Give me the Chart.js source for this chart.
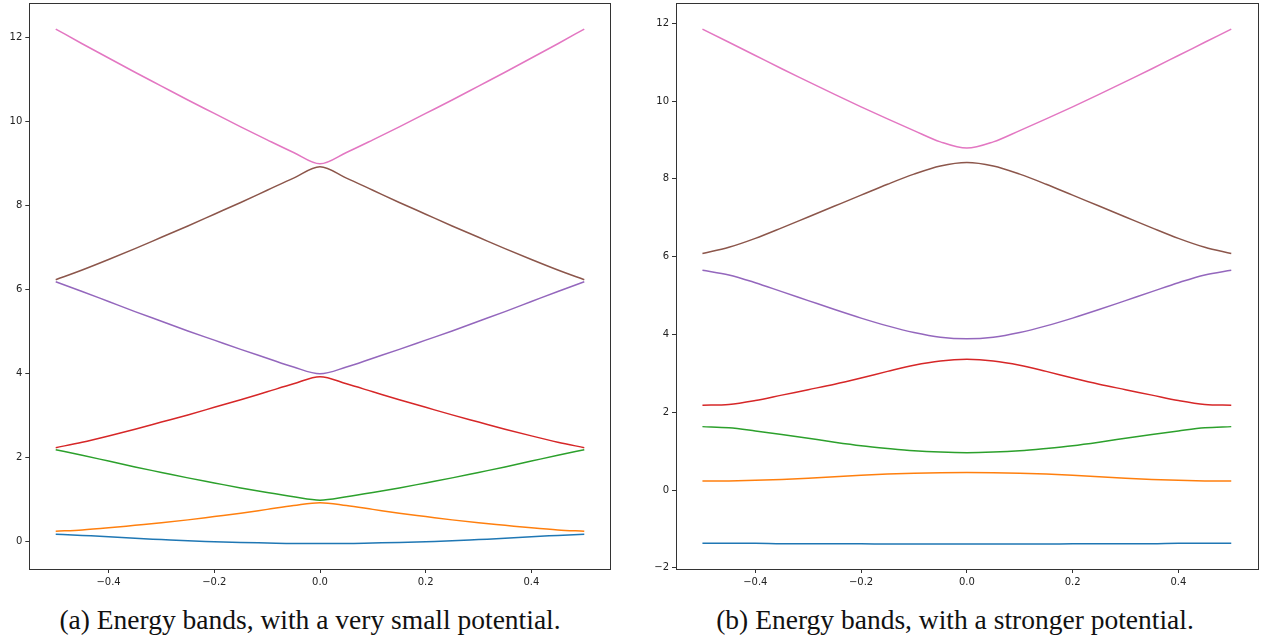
<!DOCTYPE html>
<html>
<head>
<meta charset="utf-8">
<script src="https://cdn.jsdelivr.net/npm/chart.js@4.4.1/dist/chart.umd.min.js"></script>
<style>
  body { margin: 0; background: #fff; width: 1268px; height: 641px; overflow: hidden; position: relative; }
  canvas { position: absolute; top: 0; }
  #bandsA { left: 0; }
  #bandsB { left: 640px; }
  .cap { position: absolute; top: 604px; font-family: "Liberation Serif", "DejaVu Serif", serif; font-size: 27.5px; color: #111; white-space: nowrap; transform: translateX(-50%); }
</style>
</head>
<body>
<canvas id="bandsA" width="640" height="600"></canvas>
<canvas id="bandsB" width="628" height="600"></canvas>
<div class="cap" style="left:310px">(a) Energy bands, with a very small potential.</div>
<div class="cap" style="left:955px">(b) Energy bands, with a stronger potential.</div>
<script>
// wave number k over the first Brillouin zone
const kValues = [-0.5, -0.45, -0.4, -0.35, -0.3, -0.25, -0.2, -0.15, -0.1, -0.05, 0,
  0.05, 0.1, 0.15, 0.2, 0.25, 0.3, 0.35, 0.4, 0.45, 0.5];
const xTicks = [-0.4, -0.2, 0, 0.2, 0.4];
const yTicksA = [0, 2, 4, 6, 8, 10, 12];
const yTicksB = [-2, 0, 2, 4, 6, 8, 10, 12];

// (a) very small potential
const band1A = [0.18, 0.15, 0.12, 0.08, 0.05, 0.02, 0.0, -0.02, -0.03, -0.04, -0.04, -0.04, -0.03, -0.02, 0.0, 0.02, 0.05, 0.08, 0.12, 0.15, 0.18];
const band2A = [0.25, 0.28, 0.33, 0.39, 0.45, 0.52, 0.60, 0.68, 0.77, 0.86, 0.93, 0.86, 0.77, 0.68, 0.60, 0.52, 0.45, 0.39, 0.33, 0.28, 0.25];
const band3A = [2.19, 2.06, 1.92, 1.78, 1.65, 1.52, 1.40, 1.28, 1.17, 1.07, 0.99, 1.07, 1.17, 1.28, 1.40, 1.52, 1.65, 1.78, 1.92, 2.06, 2.19];
const band4A = [2.24, 2.37, 2.52, 2.68, 2.85, 3.02, 3.20, 3.38, 3.57, 3.76, 3.93, 3.76, 3.57, 3.38, 3.20, 3.02, 2.85, 2.68, 2.52, 2.37, 2.24];
const band5A = [6.19, 5.96, 5.72, 5.48, 5.25, 5.02, 4.80, 4.58, 4.37, 4.16, 4.00, 4.16, 4.37, 4.58, 4.80, 5.02, 5.25, 5.48, 5.72, 5.96, 6.19];
const band6A = [6.24, 6.47, 6.72, 6.98, 7.25, 7.52, 7.80, 8.08, 8.37, 8.66, 8.93, 8.66, 8.37, 8.08, 7.80, 7.52, 7.25, 6.98, 6.72, 6.47, 6.24];
const band7A = [12.21, 11.86, 11.52, 11.18, 10.85, 10.52, 10.20, 9.88, 9.57, 9.27, 9.00, 9.27, 9.57, 9.88, 10.20, 10.52, 10.85, 11.18, 11.52, 11.86, 12.21];

// (b) stronger potential
const band1B = [-1.37, -1.37, -1.37, -1.38, -1.38, -1.38, -1.38, -1.39, -1.39, -1.39, -1.39, -1.39, -1.39, -1.39, -1.38, -1.38, -1.38, -1.38, -1.37, -1.37, -1.37];
const band2B = [0.23, 0.235, 0.25, 0.27, 0.30, 0.34, 0.38, 0.41, 0.43, 0.445, 0.45, 0.445, 0.43, 0.41, 0.38, 0.34, 0.30, 0.27, 0.25, 0.235, 0.23];
const band3B = [1.63, 1.60, 1.52, 1.43, 1.33, 1.23, 1.14, 1.07, 1.01, 0.975, 0.96, 0.975, 1.01, 1.07, 1.14, 1.23, 1.33, 1.43, 1.52, 1.60, 1.63];
const band4B = [2.18, 2.20, 2.30, 2.44, 2.58, 2.72, 2.88, 3.05, 3.21, 3.32, 3.36, 3.32, 3.21, 3.05, 2.88, 2.72, 2.58, 2.44, 2.30, 2.20, 2.18];
const band5B = [5.65, 5.53, 5.33, 5.10, 4.87, 4.64, 4.42, 4.22, 4.05, 3.93, 3.89, 3.93, 4.05, 4.22, 4.42, 4.64, 4.87, 5.10, 5.33, 5.53, 5.65];
const band6B = [6.08, 6.24, 6.47, 6.74, 7.02, 7.30, 7.58, 7.86, 8.12, 8.33, 8.42, 8.33, 8.12, 7.86, 7.58, 7.30, 7.02, 6.74, 6.47, 6.24, 6.08];
const band7B = [11.85, 11.51, 11.17, 10.83, 10.50, 10.17, 9.85, 9.54, 9.24, 8.95, 8.79, 8.95, 9.24, 9.54, 9.85, 10.17, 10.50, 10.83, 11.17, 11.51, 11.85];

const colors = ["#1f77b4", "#ff7f0e", "#2ca02c", "#d62728", "#9467bd", "#8c564b", "#e377c2"];

const minus = (s) => s.replace("-", "\u2212");

// full box around the plot area, like matplotlib spines
const frame = {
  id: "frame",
  afterDraw(chart) {
    const a = chart.chartArea, ctx = chart.ctx;
    ctx.save();
    ctx.strokeStyle = "#333";
    ctx.lineWidth = 1;
    ctx.strokeRect(Math.round(a.left) + 0.5, Math.round(a.top) + 0.5,
      Math.round(a.right - a.left), Math.round(a.bottom - a.top));
    ctx.restore();
  }
};

function makeChart(id, bands, yMin, yMax, yTicks, yWidth, padRight) {
  new Chart(document.getElementById(id), {
    type: "line",
    data: {
      datasets: bands.map((b, i) => ({
        data: kValues.map((k, j) => ({ x: k, y: b[j] })),
        borderColor: colors[i],
        borderWidth: 1.5,
        pointRadius: 0,
        fill: false,
        cubicInterpolationMode: "monotone",
      })),
    },
    options: {
      responsive: false,
      animation: false,
      layout: { padding: { top: 3, right: padRight, bottom: 0, left: 0 } },
      plugins: { legend: { display: false }, tooltip: { enabled: false } },
      scales: {
        x: {
          type: "linear",
          min: -0.55,
          max: 0.55,
          afterBuildTicks: (s) => { s.ticks = xTicks.map((v) => ({ value: v })); },
          afterFit: (s) => { s.height = 31; s.paddingLeft = 0; s.paddingRight = 0; },
          ticks: {
            autoSkip: false,
            maxRotation: 0,
            padding: 3,
            color: "#222",
            font: { family: "DejaVu Sans", size: 10 },
            callback: (v) => minus(Number(v).toFixed(1)),
          },
          grid: { drawOnChartArea: false, drawTicks: true, tickLength: 4, color: "#333" },
          border: { display: true, color: "#333" },
        },
        y: {
          min: yMin,
          max: yMax,
          afterBuildTicks: (s) => { s.ticks = yTicks.map((v) => ({ value: v })); },
          afterFit: (s) => { s.width = yWidth; s.paddingTop = 0; s.paddingBottom = 0; },
          ticks: {
            autoSkip: false,
            padding: 3,
            color: "#222",
            font: { family: "DejaVu Sans", size: 10 },
            callback: (v) => minus(String(v)),
          },
          grid: { drawOnChartArea: false, drawTicks: true, tickLength: 4, color: "#333" },
          border: { display: true, color: "#333" },
        },
      },
    },
    plugins: [frame],
  });
}

makeChart("bandsA", [band1A, band2A, band3A, band4A, band5A, band6A, band7A], -0.65, 12.83, yTicksA, 29.3, 29.3);
makeChart("bandsB", [band1B, band2B, band3B, band4B, band5B, band6B, band7B], -2.03, 12.52, yTicksB, 36, 10.3);
</script>
</body>
</html>
